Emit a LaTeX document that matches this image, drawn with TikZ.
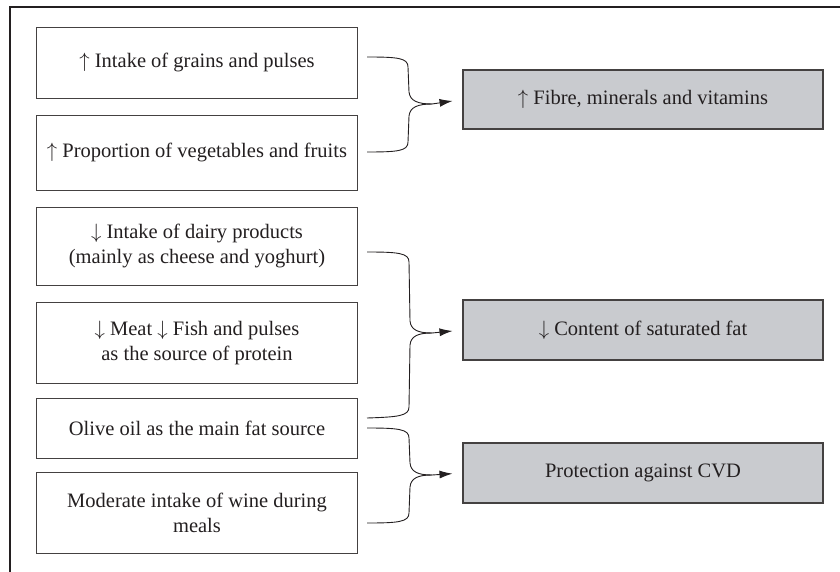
\documentclass[tikz,border=0pt]{standalone}
\usepackage{fontspec}
\setmainfont{Liberation Serif}
\usetikzlibrary{arrows.meta}
\definecolor{boxgray}{HTML}{C9CBCF}
\definecolor{ink}{HTML}{231F20}
\newcommand{\upar}{$\uparrow$}
\newcommand{\dnar}{$\downarrow$}
\begin{document}
\begin{tikzpicture}[x=1pt,y=-1pt,
  every node/.style={font=\fontsize{20.5}{25}\selectfont, text=ink},
  leftbox/.style={draw=ink!85, line width=0.9pt, fill=white, minimum width=321pt, inner sep=0pt, align=center},
  graybox/.style={draw=ink!85, line width=1.1pt, fill=boxgray, minimum width=360pt, minimum height=59pt, inner sep=0pt, align=center},
  brace/.style={draw=ink, line width=0.9pt},
  arr/.style={draw=ink, line width=0.9pt, -{Latex[length=13pt,width=8pt]}, shorten >=10pt}]
\useasboundingbox (0,0) rectangle (840,572);
% frame (top and left only)
\draw[ink, line width=1.4pt] (10,572) -- (10,7) -- (840,7);

% left boxes
\node[leftbox, minimum height=71pt] (b1) at (197,62.5) {\upar{} Intake of grains and pulses};
\node[leftbox, minimum height=75pt] (b2) at (197,152.5) {\upar{} Proportion of vegetables and fruits};
\node[leftbox, minimum height=78pt] (b3) at (197,246) {\dnar{} Intake of dairy products\\(mainly as cheese and yoghurt)};
\node[leftbox, minimum height=81pt] (b4) at (197,342.5) {\dnar{} Meat \dnar{} Fish and pulses\\as the source of protein};
\node[leftbox, minimum height=60pt] (b5) at (197,428) {Olive oil as the main fat source};
\node[leftbox, minimum height=81pt] (b6) at (197,512.5) {Moderate intake of wine during\\meals};

% right boxes
\node[graybox] (f) at (643,99.5) {\upar{} Fibre, minerals and vitamins};
\node[graybox, minimum height=60pt] (c) at (643,330) {\dnar{} Content of saturated fat};
\node[graybox, minimum height=60pt] (p) at (643,473) {Protection against CVD};

% brace end points
\coordinate (s1) at (367,57);
\coordinate (s2) at (367,152);
\coordinate (m1) at (432,104);
\coordinate (s3) at (367,252);
\coordinate (s5a) at (367,418);
\coordinate (m2) at (432,333);
\coordinate (s5b) at (367,428);
\coordinate (s6) at (367,523);
\coordinate (m3) at (432,475);

% brace 1
\draw[brace] (s1) .. controls (398,57) and (408,58) .. (408,67) -- (409,92)
  .. controls (410,101) and (418,104) .. (m1);
\draw[brace] (s2) .. controls (398,152) and (408,151) .. (408,142) -- (409,116)
  .. controls (410,107) and (418,104) .. (m1);
\draw[arr] (m1) -- (f.west);

% brace 2
\draw[brace] (s3) .. controls (398,252) and (409,253) .. (409,262) -- (410,321)
  .. controls (411,330) and (418,333) .. (m2);
\draw[brace] (s5a) .. controls (398,417) and (409,416) .. (409,407) -- (410,345)
  .. controls (411,336) and (418,333) .. (m2);
\draw[arr] (m2) -- (c.west);

% brace 3
\draw[brace] (s5b) .. controls (398,428) and (409,429) .. (409,438) -- (410,463)
  .. controls (411,472) and (418,475) .. (m3);
\draw[brace] (s6) .. controls (398,523) and (409,522) .. (409,513) -- (410,487)
  .. controls (411,478) and (418,475) .. (m3);
\draw[arr] (m3) -- (p.west);
\end{tikzpicture}
\end{document}
